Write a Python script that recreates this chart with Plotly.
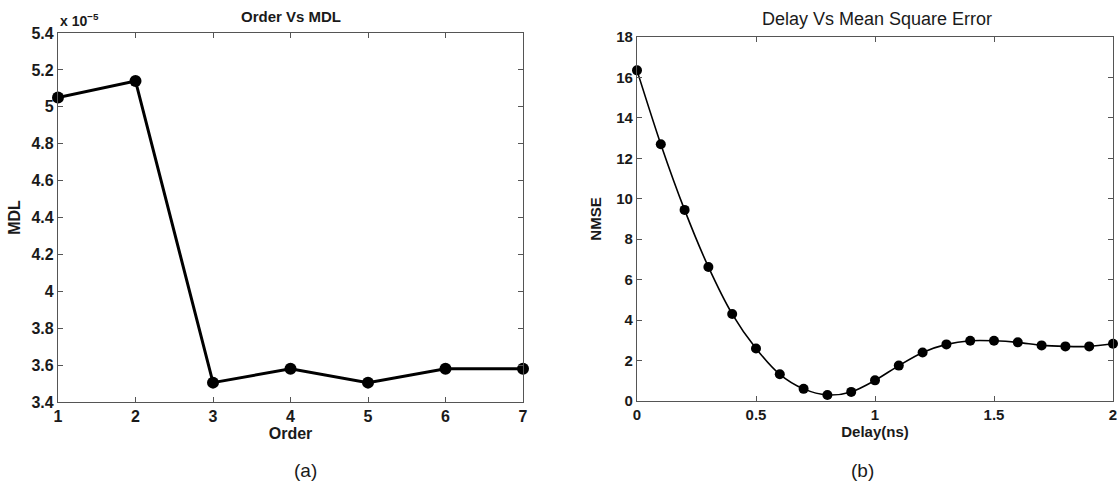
import plotly.graph_objects as go

# Panel (a): Order vs MDL (values in units of 1e-5)
orders = [1, 2, 3, 4, 5, 6, 7]
mdl_values = [5.05, 5.14, 3.505, 3.58, 3.505, 3.58, 3.58]
mdl_ticks = [3.4, 3.6, 3.8, 4.0, 4.2, 4.4, 4.6, 4.8, 5.0, 5.2, 5.4]
mdl_ticklabels = ["3.4", "3.6", "3.8", "4", "4.2", "4.4", "4.6", "4.8", "5", "5.2", "5.4"]
order_ticklabels = ["1", "2", "3", "4", "5", "6", "7"]

# Panel (b): Delay vs NMSE
delays = [0.0, 0.1, 0.2, 0.3, 0.4, 0.5, 0.6, 0.7, 0.8, 0.9, 1.0,
          1.1, 1.2, 1.3, 1.4, 1.5, 1.6, 1.7, 1.8, 1.9, 2.0]
nmse_values = [16.35, 12.7, 9.45, 6.63, 4.3, 2.6, 1.32, 0.6, 0.3, 0.45, 1.02,
               1.75, 2.4, 2.8, 2.98, 2.98, 2.9, 2.75, 2.7, 2.7, 2.83]
delay_ticks = [0, 0.5, 1, 1.5, 2]
delay_ticklabels = ["0", "0.5", "1", "1.5", "2"]
nmse_ticks = [0, 2, 4, 6, 8, 10, 12, 14, 16, 18]
nmse_ticklabels = ["0", "2", "4", "6", "8", "10", "12", "14", "16", "18"]

FONT = "Liberation Sans, Arial, sans-serif"
AX = "#555555"
TXT = "#1a1a1a"
W, H = 1119, 492


def bold(labels):
    return ["<b>%s</b>" % s for s in labels]


fig = go.Figure()
fig.add_trace(go.Scatter(
    x=orders, y=mdl_values, mode="lines+markers",
    line=dict(color="black", width=3),
    marker=dict(color="black", size=12),
    xaxis="x", yaxis="y", showlegend=False, cliponaxis=False))
fig.add_trace(go.Scatter(
    x=delays, y=nmse_values, mode="lines+markers",
    line=dict(color="black", width=1.6, shape="spline", smoothing=0.8),
    marker=dict(color="black", size=10),
    xaxis="x2", yaxis="y2", showlegend=False, cliponaxis=False))

common = dict(showline=True, linecolor=AX, linewidth=1.3, mirror="ticks",
              ticks="inside", ticklen=5, tickcolor=AX, tickwidth=1,
              showgrid=False, zeroline=False, automargin=False)
fa_tick = dict(family=FONT, size=16, color=TXT)
fb_tick = dict(family=FONT, size=15, color=TXT)


def note(text, px, py, size, anchor="center"):
    return dict(text=text, x=px/W, y=(H-py)/H, xref="paper", yref="paper",
                xanchor=anchor, yanchor="middle", showarrow=False,
                font=dict(family=FONT, size=size, color=TXT))


fig.update_layout(
    width=W, height=H,
    margin=dict(l=0, r=0, t=0, b=0, autoexpand=False),
    paper_bgcolor="white", plot_bgcolor="white",
    xaxis=dict(domain=[58/W, 523/W], range=[1, 7], tickvals=orders,
               ticktext=bold(order_ticklabels), anchor="y", tickfont=fa_tick,
               title=dict(text="<b>Order</b>", font=dict(family=FONT, size=16, color=TXT), standoff=0),
               **common),
    yaxis=dict(domain=[(H-402)/H, (H-33)/H], range=[3.4, 5.4],
               tickvals=mdl_ticks, ticktext=bold(mdl_ticklabels), anchor="x", tickfont=fa_tick,
               title=dict(text="<b>MDL</b>", font=dict(family=FONT, size=16, color=TXT), standoff=6),
               **common),
    xaxis2=dict(domain=[637/W, 1113/W], range=[0, 2], tickvals=delay_ticks,
                ticktext=bold(delay_ticklabels), anchor="y2", tickfont=fb_tick,
                title=dict(text="<b>Delay(ns)</b>", font=dict(family=FONT, size=15, color=TXT), standoff=0),
                **common),
    yaxis2=dict(domain=[(H-401)/H, (H-37)/H], range=[0, 18],
                tickvals=nmse_ticks, ticktext=bold(nmse_ticklabels), anchor="x2", tickfont=fb_tick,
                title=dict(text="<b>NMSE</b>", font=dict(family=FONT, size=15, color=TXT), standoff=10),
                **common),
    annotations=[
        note("<b>Order Vs MDL</b>", 291, 17, 15),
        note("<b>x 10<sup>−5</sup></b>", 58, 20, 14, anchor="left"),
        note("Delay Vs Mean Square Error", 877, 19, 18),
        note("(a)", 305, 470, 19),
        note("(b)", 862, 470, 19),
    ],
)

fig.write_html(
    "out.html",
    config={"displayModeBar": False},
    post_script="document.body.style.margin='0';document.body.style.overflow='hidden';",
)
